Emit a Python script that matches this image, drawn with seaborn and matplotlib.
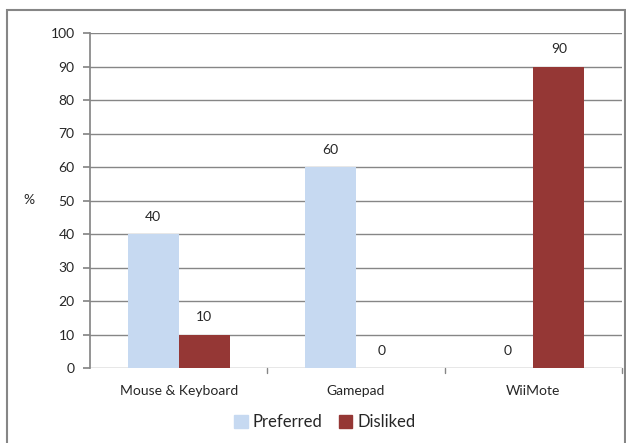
import matplotlib
matplotlib.use("Agg")
import matplotlib.pyplot as plt
import seaborn as sns
import pandas as pd
from matplotlib.patches import Rectangle

categories = ["Mouse & Keyboard", "Gamepad", "WiiMote"]
preferred = [40, 60, 0]
disliked = [10, 0, 90]
series_names = ["Preferred", "Disliked"]
colors = ["#c6d9f1", "#953735"]

df = pd.DataFrame({
    "category": categories * 2,
    "series": [series_names[0]] * 3 + [series_names[1]] * 3,
    "value": preferred + disliked,
})

sns.set_theme(style="white")
plt.rcParams["font.family"] = ["Lato", "DejaVu Sans"]

fig = plt.figure(figsize=(6.26, 4.43), dpi=100)
ax = fig.add_axes([90/626, 1 - 368/443, 532/626, 335/443])

sns.barplot(data=df, x="category", y="value", hue="series", palette=colors,
            ax=ax, width=0.575, saturation=1, legend=False, linewidth=0, edgecolor="none")

ax.set_ylim(0, 100)
ax.set_xlim(-0.5, 2.5)
ax.set_yticks(range(0, 101, 10))
ax.yaxis.grid(True, color="#868686", linewidth=1)
ax.set_axisbelow(True)
for s in ["top", "right", "bottom"]:
    ax.spines[s].set_visible(False)
ax.spines["left"].set_color("#868686")
ax.tick_params(axis="y", length=5, color="#868686", left=True, labelsize=10, pad=6)
ax.tick_params(axis="x", length=0, labelsize=10, pad=12)
ax.set_xlabel("")
ax.set_ylabel("%", rotation=0, fontsize=10, labelpad=30, va="center")
ax.yaxis.set_label_coords(-0.115, 0.5)

for cont in ax.containers:
    ax.bar_label(cont, fmt="%g", padding=8, fontsize=10)

# category separator ticks
for xpos in [0.5, 1.5, 2.5]:
    ax.plot([xpos, xpos], [0, -1.5], color="#868686", lw=1, clip_on=False)

handles = [Rectangle((0, 0), 1, 1, color=c) for c in colors]
fig.legend(handles, series_names, loc="center", bbox_to_anchor=(325/626, 1 - 422/443),
           ncol=2, frameon=False, fontsize=12, handlelength=0.8, handleheight=0.8,
           handletextpad=0.3, columnspacing=1.0)

fig.patches.append(Rectangle((7/626, -0.1), 618/626, 1.1 - 10/443, transform=fig.transFigure,
                             fill=False, edgecolor="#868686", lw=1.5))

fig.savefig("out.png", dpi=100)
